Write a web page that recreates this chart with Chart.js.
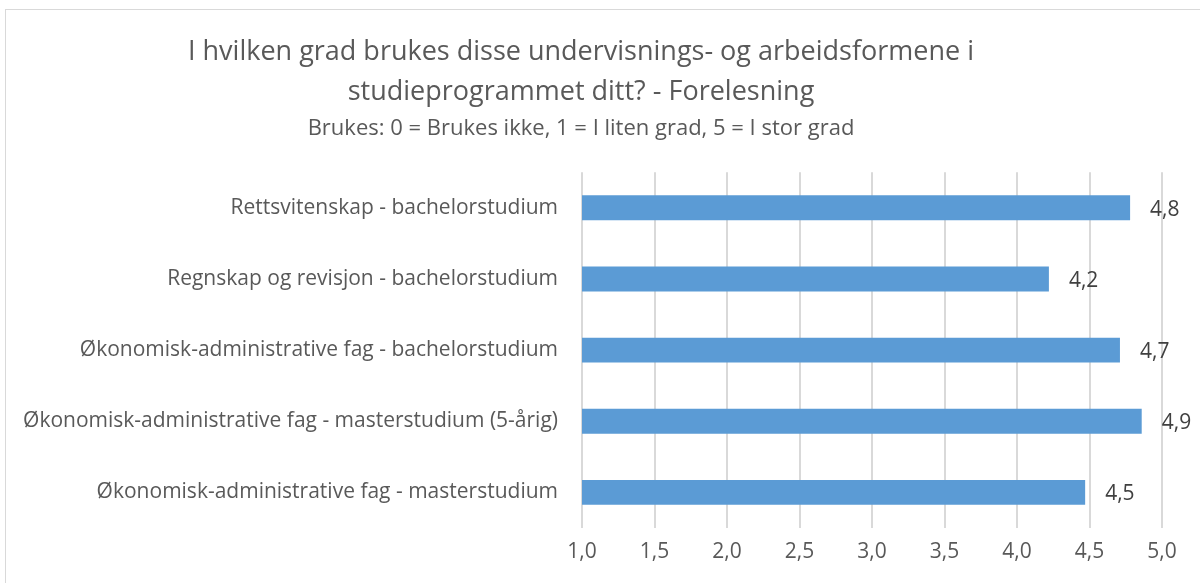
<!DOCTYPE html>
<html>
<head>
<meta charset="utf-8">
<script src="https://cdn.jsdelivr.net/npm/chart.js@4/dist/chart.umd.min.js"></script>
<style>
  html, body { margin: 0; padding: 0; background: #fff; overflow: hidden; }
  #frame { position: absolute; left: 5px; top: 9px; width: 1300px; height: 700px; border: 1px solid #d9d9d9; box-sizing: border-box; }
  #chart { position: absolute; left: 0; top: 0; }
</style>
</head>
<body>
<div id="frame"></div>
<canvas id="chart" width="1200" height="583"></canvas>
<script>
(function() {
  'use strict';

  var categories = [
    'Rettsvitenskap - bachelorstudium',
    'Regnskap og revisjon - bachelorstudium',
    'Økonomisk-administrative fag - bachelorstudium',
    'Økonomisk-administrative fag - masterstudium (5-årig)',
    'Økonomisk-administrative fag - masterstudium'
  ];
  var values = [4.78, 4.22, 4.71, 4.86, 4.47];
  var titleLines = [
    'I hvilken grad brukes disse undervisnings- og arbeidsformene i',
    'studieprogrammet ditt? - Forelesning'
  ];
  var subtitleText = 'Brukes: 0 = Brukes ikke, 1 = I liten grad, 5 = I stor grad';

  var textColor = '#595959';
  var fontFamily = '"Open Sans", "Noto Sans", sans-serif';

  function formatValue(v) {
    return v.toFixed(1).replace('.', ',');
  }

  var valueLabels = {
    id: 'valueLabels',
    afterDatasetsDraw: function(chart) {
      var ctx = chart.ctx;
      var meta = chart.getDatasetMeta(0);
      ctx.save();
      ctx.font = '21px ' + fontFamily;
      ctx.fillStyle = '#404040';
      ctx.textAlign = 'left';
      ctx.textBaseline = 'middle';
      meta.data.forEach(function(bar, i) {
        ctx.fillText(formatValue(values[i]), bar.x + 20, bar.y + 2);
      });
      ctx.restore();
    }
  };

  new Chart(document.getElementById('chart'), {
    type: 'bar',
    data: {
      labels: categories,
      datasets: [{
        data: values,
        backgroundColor: '#5b9bd5',
        borderWidth: 0,
        categoryPercentage: 1,
        barPercentage: 0.35
      }]
    },
    options: {
      indexAxis: 'y',
      responsive: false,
      animation: false,
      layout: { padding: { left: 0, right: 38, top: 32, bottom: 0 } },
      plugins: {
        legend: { display: false },
        tooltip: { enabled: false },
        title: {
          display: true,
          text: titleLines,
          color: textColor,
          font: { family: fontFamily, size: 27, weight: 'normal', lineHeight: 1.48 },
          padding: { top: 0, bottom: 4 }
        },
        subtitle: {
          display: true,
          text: subtitleText,
          color: textColor,
          font: { family: fontFamily, size: 22, weight: 'normal', lineHeight: 1.15 },
          padding: { top: 0, bottom: 31 }
        }
      },
      scales: {
        x: {
          min: 1,
          max: 5,
          ticks: {
            stepSize: 0.5,
            color: textColor,
            font: { family: fontFamily, size: 21 },
            padding: 11,
            callback: function(v) { return formatValue(v); }
          },
          grid: { color: '#d9d9d9', lineWidth: 2, drawTicks: false },
          border: { display: false },
          afterFit: function(scale) { scale.height = 55; }
        },
        y: {
          ticks: {
            color: textColor,
            font: { family: fontFamily, size: 21 },
            padding: 24
          },
          grid: { display: false, drawTicks: false },
          border: { display: false },
          afterFit: function(scale) { scale.width = 582; }
        }
      }
    },
    plugins: [valueLabels]
  });
})();
</script>
</body>
</html>
